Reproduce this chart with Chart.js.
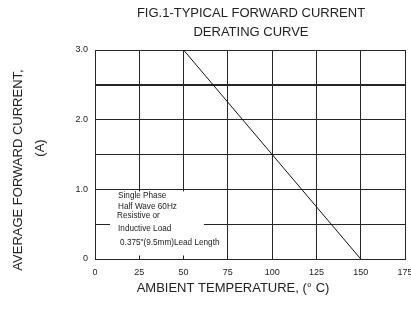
<!DOCTYPE html>
<html>
<head>
<meta charset="utf-8">
<script src="https://cdn.jsdelivr.net/npm/chart.js@4.4.1/dist/chart.umd.min.js"></script>
<style>
    html, body { margin: 0; padding: 0; background: #ffffff; }
    #wrap { width: 411px; height: 309px; position: relative; }
</style>
</head>
<body>
<div id="wrap"><canvas id="deratingChart"></canvas></div>
<script>
// derating line
const ambientTemp = [50, 150];
const forwardCurrent = [3.0, 0];

const xTicks = [0, 25, 50, 75, 100, 125, 150, 175];
const yTicks = [0, 0.5, 1.0, 1.5, 2.0, 2.5, 3.0];
const yTickLabels = ["0", "", "1.0", "", "2.0", "", "3.0"];

const titleLines = ["FIG.1-TYPICAL FORWARD CURRENT", "DERATING CURVE"];
const xTitle = "AMBIENT TEMPERATURE, (° C)";
const yTitleLines = ["AVERAGE FORWARD CURRENT,", "(A)"];
const noteLines = [
    "Single Phase",
    "Half Wave 60Hz",
    "Resistive or",
    "Inductive Load",
    "0.375\"(9.5mm)Lead Length"
];

const FONT = "'Liberation Sans', Arial, sans-serif";
const GRID = "#262626";

const textPlugin = {
    id: "derateText",
    beforeDatasetsDraw(chart) {
        // white note box that covers the grid in the lower left
        const { ctx, scales } = chart;
        const left = scales.x.getPixelForValue(8.5);
        const right = scales.x.getPixelForValue(61.5);
        const top = scales.y.getPixelForValue(0.97);
        const bottom = scales.y.getPixelForValue(0.05);
        ctx.save();
        ctx.fillStyle = "#ffffff";
        ctx.fillRect(left, top, right - left, bottom - top);
        ctx.restore();
    },
    afterDraw(chart) {
        const { ctx, scales } = chart;
        ctx.save();
        ctx.fillStyle = "#222222";
        ctx.textAlign = "center";
        ctx.textBaseline = "middle";

        ctx.font = `13px ${FONT}`;
        ctx.fillText(titleLines[0], 251, 13);
        ctx.fillText(titleLines[1], 251, 32);

        ctx.fillText(xTitle, 233, 288);

        ctx.save();
        ctx.translate(18, 170);
        ctx.rotate(-Math.PI / 2);
        ctx.fillText(yTitleLines[0], 0, 0);
        ctx.restore();
        ctx.save();
        ctx.translate(40, 148);
        ctx.rotate(-Math.PI / 2);
        ctx.fillText(yTitleLines[1], 0, 0);
        ctx.restore();

        // note text inside the box
        const boxLeft = scales.x.getPixelForValue(8.5);
        const boxTop = scales.y.getPixelForValue(0.97);
        const offsets = [[8, 4], [8, 15.5], [7, 24], [8, 37], [10, 51]];
        ctx.font = `8.2px ${FONT}`;
        ctx.textAlign = "left";
        noteLines.forEach((line, i) => {
            ctx.fillText(line, boxLeft + offsets[i][0], boxTop + offsets[i][1]);
        });
        ctx.restore();
    }
};

const canvas = document.getElementById("deratingChart");

new Chart(canvas, {
    type: "scatter",
    data: {
        datasets: [{
            data: ambientTemp.map((t, i) => ({ x: t, y: forwardCurrent[i] })),
            showLine: true,
            borderColor: "#111111",
            borderWidth: 1,
            pointRadius: 0,
            fill: false
        }]
    },
    options: {
        responsive: true,
        maintainAspectRatio: false,
        animation: false,
        layout: { padding: { top: 50, right: 6, left: 0, bottom: 0 } },
        plugins: {
            legend: { display: false },
            tooltip: { enabled: false }
        },
        scales: {
            x: {
                type: "linear",
                min: 0,
                max: 175,
                afterBuildTicks(scale) {
                    scale.ticks = xTicks.map(v => ({ value: v }));
                },
                afterFit(scale) {
                    scale.height = 50;
                    scale.paddingLeft = 0;
                    scale.paddingRight = 0;
                },
                ticks: {
                    color: "#222222",
                    font: { family: FONT, size: 9 },
                    padding: 8,
                    maxRotation: 0
                },
                grid: {
                    color: GRID,
                    lineWidth: 1,
                    drawTicks: false
                },
                border: { color: GRID, width: 1 }
            },
            y: {
                type: "linear",
                min: 0,
                max: 3,
                afterBuildTicks(scale) {
                    scale.ticks = yTicks.map(v => ({ value: v }));
                },
                afterFit(scale) {
                    scale.width = 95;
                    scale.paddingTop = 0;
                    scale.paddingBottom = 0;
                },
                ticks: {
                    color: "#222222",
                    font: { family: FONT, size: 9 },
                    padding: 7,
                    callback: function(value) {
                        const idx = yTicks.indexOf(value);
                        return idx >= 0 ? yTickLabels[idx] : "";
                    }
                },
                grid: {
                    color: GRID,
                    lineWidth: ctx => (ctx.tick && ctx.tick.value === 2.5 ? 2 : 1),
                    drawTicks: false
                },
                border: { color: GRID, width: 1 }
            }
        }
    },
    plugins: [textPlugin]
});
</script>
</body>
</html>
